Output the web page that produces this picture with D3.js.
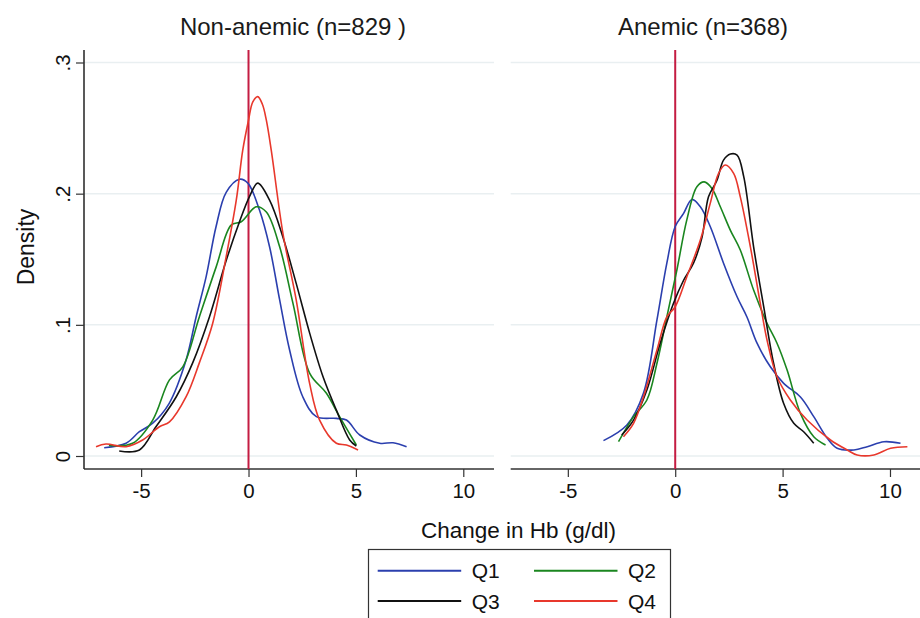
<!DOCTYPE html>
<html>
<head>
<meta charset="utf-8">
<script src="https://cdn.jsdelivr.net/npm/d3@7"></script>
<style>
    body { margin: 0; background: #fff; }
    svg { display: block; font-family: "Liberation Sans", Arial, Helvetica, sans-serif; }
</style>
</head>
<body>
<div id="chart"></div>
<script>
    // panel titles and legend labels
    var panels = ["Non-anemic (n=829 )", "Anemic (n=368)"];
    var quartiles = ["Q1", "Q2", "Q3", "Q4"];
    var xTicks = [-5, 0, 5, 10];
    var yTicks = [0, 0.1, 0.2, 0.3];

    // density curves, [change in Hb, density]
    var nonAnemicQ1 = [[-6.72, .0063], [-5.7, .0097], [-5.08, .0185], [-4.46, .025], [-3.7, .04], [-2.91, .073],
        [-2.44, .106], [-1.97, .137], [-1.51, .175], [-1.04, .201], [-0.42, .211], [-0.03, .208], [0.51, .1875],
        [0.98, .1595], [1.45, .119], [1.91, .081], [2.53, .045], [3.16, .030], [4.09, .0287], [4.56, .0274],
        [5.18, .016], [6.11, .0097], [6.73, .0101], [7.36, .0071]];
    var nonAnemicQ2 = [[-6.5, .008], [-5.4, .0097], [-4.46, .0274], [-3.68, .058], [-3.06, .068], [-2.29, .106],
        [-1.51, .144], [-0.81, .176], [-0.34, .1786], [0.36, .19], [0.83, .186], [1.45, .1595], [2.07, .1164],
        [2.85, .063], [3.62, .048], [4.24, .030], [5.02, .0084]];
    var nonAnemicQ3 = [[-6.02, .0038], [-5.08, .0046], [-4.31, .0223], [-3.37, .045], [-2.6, .071], [-1.82, .106],
        [-1.04, .149], [-0.42, .1786], [0.05, .198], [0.43, .208], [0.98, .195], [1.6, .167], [2.22, .1316],
        [2.85, .0935], [3.47, .0604], [4.09, .035], [4.71, .0122], [5.02, .0076]];
    var nonAnemicQ4 = [[-7.1, .0071], [-6.64, .0091], [-5.7, .0071], [-4.93, .0122], [-4.15, .0223], [-3.68, .026],
        [-2.91, .045], [-2.29, .071], [-1.67, .101], [-1.04, .152], [-0.57, .195], [-0.27, .233], [0, .256],
        [0.2, .27], [0.43, .274], [0.65, .268], [0.83, .256], [1.06, .233], [1.6, .17], [2.22, .119], [2.85, .055],
        [3.31, .0274], [4.09, .0097], [4.56, .0084], [5.1, .0046]];

    var anemicQ1 = [[-3.34, .0117], [-2.25, .0236], [-1.48, .0478], [-0.85, .1037], [-0.39, .147], [0, .175],
        [0.39, .185], [0.78, .1956], [1.17, .19], [1.63, .175], [2.25, .147], [2.88, .1214], [3.34, .106],
        [3.81, .086], [4.43, .068], [5.05, .0554], [5.83, .045], [6.45, .030], [7.08, .0135], [7.54, .0059],
        [8.32, .0046], [8.94, .0071], [9.72, .0109], [10.49, .0097]];
    var anemicQ2 = [[-2.64, .0109], [-1.94, .030], [-1.32, .0427], [-0.85, .0707], [-0.39, .106], [0.08, .142],
        [0.54, .18], [1.01, .2053], [1.35, .209], [1.71, .204], [2.1, .19], [2.57, .172], [3.03, .157],
        [3.65, .1265], [4.28, .101], [4.74, .086], [5.21, .0655], [5.83, .0325], [6.45, .0147], [7.0, .0084]];
    var anemicQ3 = [[-2.49, .016], [-1.94, .0274], [-1.32, .0503], [-0.7, .086], [-0.08, .1164], [0.39, .134],
        [0.85, .147], [1.25, .167], [1.55, .1976], [1.94, .21], [2.25, .2256], [2.57, .2302], [2.88, .2294],
        [3.19, .213], [3.65, .1595], [4.12, .1138], [4.58, .0707], [5.05, .040], [5.52, .0249], [5.98, .0185],
        [6.45, .0097]];
    var anemicQ4 = [[-2.41, .0147], [-1.94, .0249], [-1.48, .045], [-0.85, .0808], [-0.39, .106], [0, .1138],
        [0.54, .1367], [1.17, .1646], [1.63, .1926], [2.02, .2155], [2.33, .2218], [2.72, .2155], [3.03, .1976],
        [3.5, .1595], [3.96, .1164], [4.28, .088], [4.74, .0604], [5.36, .0427], [6.14, .0274], [7.23, .0122],
        [8.01, .0046], [8.47, .0008], [9.25, .0008], [10.03, .0059], [10.81, .0071]];

    var panelSeries = [
        [nonAnemicQ1, nonAnemicQ2, nonAnemicQ3, nonAnemicQ4],
        [anemicQ1, anemicQ2, anemicQ3, anemicQ4]
    ];
    var colors = ["#2b3fae", "#1a861f", "#111111", "#e8382c"];

    var width = 920, height = 618;
    var svg = d3.select('#chart').append('svg')
            .attr('width', width)
            .attr('height', height);

    // shared scales, each panel gets its own x range
    var xDomain = [-7.66, 11.43];
    var panelLeft = [84, 510.7];
    var panelWidth = 410;
    var plotTop = 50, plotBottom = 469;
    var y = d3.scaleLinear().domain([0, 0.3]).range([456, 62.5]);

    var titleX = [293, 703];

    panels.forEach(function(title, p) {
        var x = d3.scaleLinear().domain(xDomain).range([panelLeft[p], panelLeft[p] + panelWidth]);
        var g = svg.append('g');

        // horizontal grid lines
        g.selectAll('line.grid').data(yTicks)
            .enter()
            .append('line')
            .attr('class', 'grid')
            .attr('x1', x.range()[0])
            .attr('x2', x.range()[1])
            .attr('y1', function(d) { return y(d); })
            .attr('y2', function(d) { return y(d); })
            .style('stroke', '#e9eff1')
            .style('stroke-width', 1.5);

        // x axis
        var xAxis = g.append('g')
            .attr('transform', 'translate(0,' + plotBottom + ')')
            .call(d3.axisBottom(x).tickValues(xTicks).tickSize(8).tickSizeOuter(0).tickPadding(6)
                .tickFormat(function(d) { return d; }));
        xAxis.select('.domain').attr('d', 'M' + x.range()[0] + ',0H' + x.range()[1])
            .style('stroke', '#333').style('stroke-width', 1.5);
        xAxis.selectAll('.tick line').style('stroke', '#333').style('stroke-width', 1.2);
        xAxis.selectAll('.tick text').style('font-size', '20.5px').style('fill', '#111')
            .style('font-family', '"Liberation Sans", Arial, sans-serif');

        // y axis only on the first panel
        if (p === 0) {
            var yAxis = g.append('g')
                .attr('transform', 'translate(' + panelLeft[p] + ',0)')
                .call(d3.axisLeft(y).tickValues(yTicks).tickSize(8).tickSizeOuter(0)
                    .tickFormat(function(d) { return d === 0 ? '0' : d3.format('.1f')(d).replace(/^0/, ''); }));
            yAxis.select('.domain').attr('d', 'M0,' + plotTop + 'V' + plotBottom)
                .style('stroke', '#222').style('stroke-width', 1.5);
            yAxis.selectAll('.tick line').style('stroke', '#333').style('stroke-width', 1.2);
            // rotated tick labels, reading bottom to top
            yAxis.selectAll('.tick text')
                .attr('x', null).attr('dy', null)
                .attr('transform', 'translate(-14,0) rotate(-90)')
                .attr('text-anchor', 'middle')
                .style('font-size', '20.5px').style('fill', '#111')
                .style('font-family', '"Liberation Sans", Arial, sans-serif');
        }

        // reference line at zero change
        g.append('line')
            .attr('x1', x(0)).attr('x2', x(0))
            .attr('y1', plotTop).attr('y2', plotBottom)
            .style('stroke', '#c41c42')
            .style('stroke-width', 2);

        // density curves
        var line = d3.line()
            .x(function(d) { return x(d[0]); })
            .y(function(d) { return y(d[1]); })
            .curve(d3.curveCatmullRom.alpha(0.5));

        g.selectAll('path.density').data(panelSeries[p])
            .enter()
            .append('path')
            .attr('class', 'density')
            .attr('d', line)
            .style('fill', 'none')
            .style('stroke', function(d, i) { return colors[i]; })
            .style('stroke-width', 1.6);

        // panel title
        g.append('text')
            .attr('x', titleX[p])
            .attr('y', 35)
            .attr('text-anchor', 'middle')
            .style('font-size', '24px')
            .style('fill', '#1a1a1a')
            .text(title);
    });

    // axis titles
    svg.append('text')
        .attr('transform', 'translate(34,247) rotate(-90)')
        .attr('text-anchor', 'middle')
        .style('font-size', '23px')
        .style('fill', '#111')
        .text('Density');

    svg.append('text')
        .attr('x', 518.5)
        .attr('y', 538)
        .attr('text-anchor', 'middle')
        .style('font-size', '22.5px')
        .style('fill', '#111')
        .text('Change in Hb (g/dl)');

    // legend, two columns, box runs past the bottom edge
    var legend = svg.append('g');
    legend.append('rect')
        .attr('x', 368.5)
        .attr('y', 549.5)
        .attr('width', 302)
        .attr('height', 100)
        .style('fill', '#fff')
        .style('stroke', '#333')
        .style('stroke-width', 1.2);

    var colX = [377.7, 534];
    var rowY = [570.7, 601];
    var items = legend.selectAll('g.item').data(quartiles)
        .enter()
        .append('g')
        .attr('class', 'item')
        .attr('transform', function(d, i) {
            return 'translate(' + colX[i % 2] + ',' + rowY[Math.floor(i / 2)] + ')';
        });
    items.append('line')
        .attr('x1', 0).attr('x2', 83.5)
        .attr('y1', 0).attr('y2', 0)
        .style('stroke', function(d, i) { return colors[i]; })
        .style('stroke-width', 2);
    items.append('text')
        .attr('x', 94)
        .attr('y', 7.5)
        .style('font-size', '21px')
        .style('fill', '#111')
        .text(function(d) { return d; });
</script>
</body>
</html>
